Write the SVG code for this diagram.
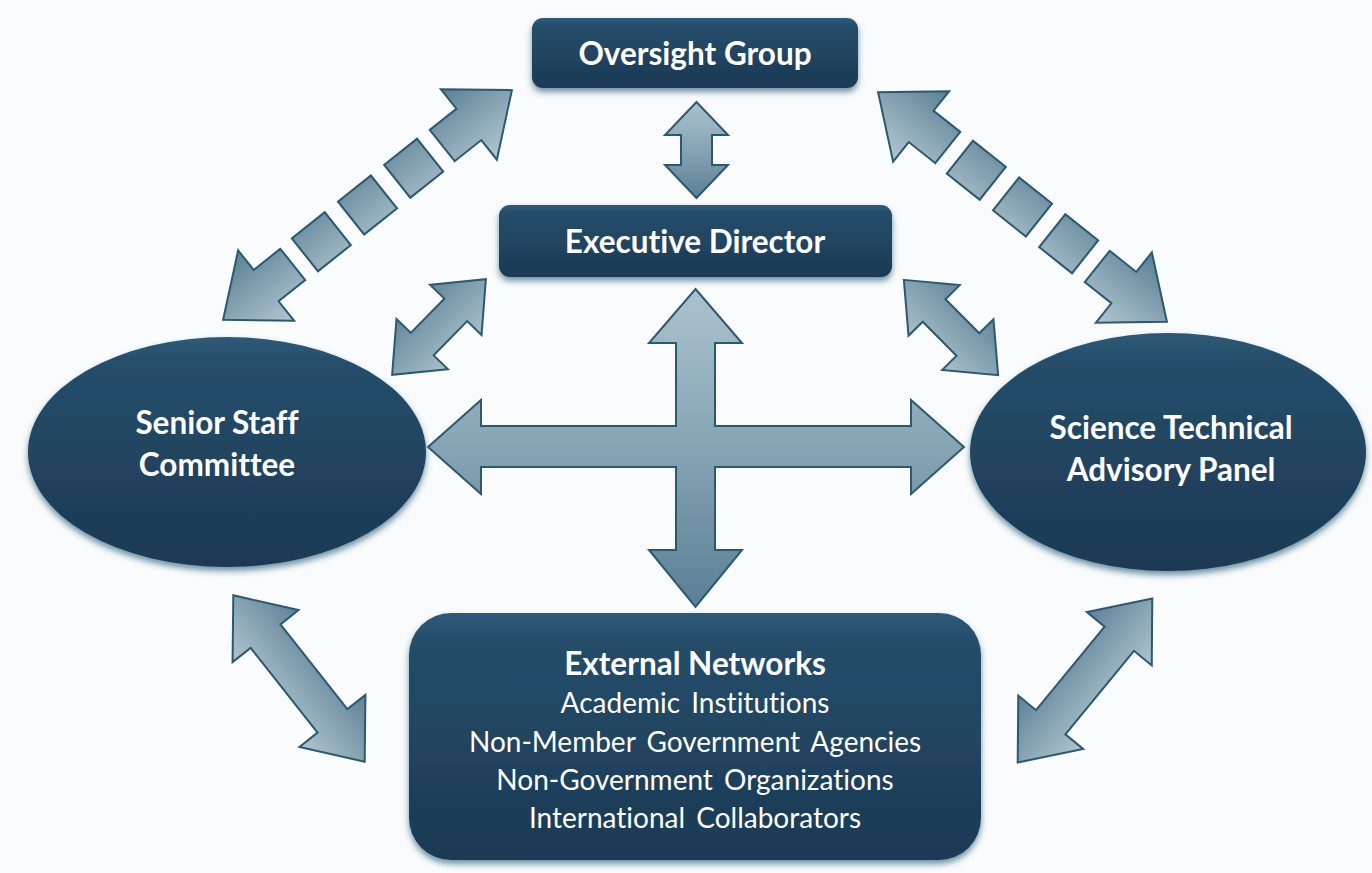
<svg xmlns="http://www.w3.org/2000/svg" width="1372" height="873" viewBox="0 0 1372 873">
<style>
.node{fill:url(#gNode);filter:url(#shadow);}
.t{fill:#ffffff;font-family:Lato,"Open Sans","Liberation Sans",sans-serif;text-anchor:middle;font-variant-ligatures:none;font-feature-settings:"liga" 0;}
.tb{font-weight:bold;font-size:31.5px;}
.tr{font-size:28px;word-spacing:4px;}
.arr{fill:url(#gDiag);stroke:#2c5870;stroke-width:2;stroke-linejoin:miter;}
.cross{fill:url(#gVert);stroke:#2c5870;stroke-width:2;}
</style>
<defs>
<linearGradient id="gNode" x1="0" y1="0" x2="0" y2="1">
<stop offset="0" stop-color="#2f5a78"/>
<stop offset="0.12" stop-color="#254d6a"/>
<stop offset="1" stop-color="#1c3954"/>
</linearGradient>
<linearGradient id="gVert" x1="0" y1="0" x2="0" y2="1">
<stop offset="0" stop-color="#abc2cd"/>
<stop offset="0.5" stop-color="#86a4b4"/>
<stop offset="1" stop-color="#5a7f94"/>
</linearGradient>
<linearGradient id="gDiag" gradientUnits="userSpaceOnUse" x1="0" y1="-45" x2="0" y2="45">
<stop offset="0" stop-color="#5b8095"/>
<stop offset="1" stop-color="#b3c7d1"/>
</linearGradient>
<filter id="shadow" x="-10%" y="-10%" width="120%" height="130%">
<feGaussianBlur in="SourceAlpha" stdDeviation="3"/>
<feOffset dy="4" result="b"/>
<feFlood flood-color="#3f6d88" flood-opacity="0.75"/>
<feComposite in2="b" operator="in" result="s"/>
<feMerge><feMergeNode in="s"/><feMergeNode in="SourceGraphic"/></feMerge>
</filter>
</defs>
<rect x="0" y="0" width="1372" height="873" fill="#f9fbfc"/>

<g id="connectors">
<!-- dashed Oversight <-> Senior Staff -->
<g transform="translate(367.5,205) rotate(-38.5)">
<path class="arr" d="M 95.5,-20 L 129.5,-20 L 129.5,-45 L 184.5,0 L 129.5,45 L 129.5,20 L 95.5,20 Z"/>
<path class="arr" d="M -95.5,-20 L -129.5,-20 L -129.5,-45 L -184.5,0 L -129.5,45 L -129.5,20 L -95.5,20 Z"/>
<rect class="arr" x="-80" y="-21" width="42" height="42"/>
<rect class="arr" x="-21" y="-21" width="42" height="42"/>
<rect class="arr" x="38" y="-21" width="42" height="42"/>
</g>
<!-- dashed Oversight <-> Science -->
<g transform="translate(1022.5,207) rotate(38.5)">
<path class="arr" d="M 95.5,-20 L 129.5,-20 L 129.5,-45 L 184.5,0 L 129.5,45 L 129.5,20 L 95.5,20 Z"/>
<path class="arr" d="M -95.5,-20 L -129.5,-20 L -129.5,-45 L -184.5,0 L -129.5,45 L -129.5,20 L -95.5,20 Z"/>
<rect class="arr" x="-80" y="-21" width="42" height="42"/>
<rect class="arr" x="-21" y="-21" width="42" height="42"/>
<rect class="arr" x="38" y="-21" width="42" height="42"/>
</g>
<!-- Oversight <-> Executive -->
<path class="cross" d="M 696.5,102 L 728,135 L 712,135 L 712,165 L 728,165 L 696.5,198 L 665,165 L 681,165 L 681,135 L 665,135 Z"/>
<!-- Executive <-> Senior Staff -->
<path class="arr" transform="translate(439,327) rotate(-45.6)" d="M -67,0 L -24,-36 L -24,-16 L 24,-16 L 24,-36 L 67,0 L 24,36 L 24,16 L -24,16 L -24,36 Z"/>
<!-- Executive <-> Science -->
<path class="arr" transform="translate(951,327.5) rotate(45.3)" d="M -67,0 L -24,-36 L -24,-16 L 24,-16 L 24,-36 L 67,0 L 24,36 L 24,16 L -24,16 L -24,36 Z"/>
<!-- central cross -->
<path class="cross" d="M 695.5,289 L 742,343 L 715,343 L 715,426 L 911,426 L 911,400 L 964,447 L 911,494 L 911,467 L 715,467 L 715,550 L 742,550 L 695.5,607 L 649,550 L 676,550 L 676,467 L 481,467 L 481,494 L 428,447 L 481,400 L 481,426 L 676,426 L 676,343 L 649,343 Z"/>
<!-- Senior Staff <-> External -->
<path class="arr" transform="translate(299,678.5) rotate(51.7)" d="M -106,0 L -54,-42 L -54,-19 L 54,-19 L 54,-42 L 106,0 L 54,42 L 54,19 L -54,19 L -54,42 Z"/>
<!-- Science <-> External -->
<path class="arr" transform="translate(1085,680.5) rotate(-50.6)" d="M -106,0 L -54,-42 L -54,-19 L 54,-19 L 54,-42 L 106,0 L 54,42 L 54,19 L -54,19 L -54,42 Z"/>
</g>

<g id="oversight">
<rect class="node" x="532" y="18" width="326" height="70" rx="11"/>
<text class="t tb" x="695" y="65">Oversight Group</text>
</g>
<g id="executive">
<rect class="node" x="499" y="205" width="393" height="72" rx="11"/>
<text class="t tb" x="695" y="253">Executive Director</text>
</g>
<g id="senior">
<ellipse class="node" cx="227" cy="452" rx="199" ry="115"/>
<text class="t tb" x="217" y="434">Senior Staff</text>
<text class="t tb" x="217" y="476">Committee</text>
</g>
<g id="science">
<ellipse class="node" cx="1168" cy="452" rx="198" ry="119"/>
<text class="t tb" x="1171" y="439">Science Technical</text>
<text class="t tb" x="1171" y="481">Advisory Panel</text>
</g>
<g id="external">
<rect class="node" x="409" y="613" width="572" height="247" rx="42"/>
<text class="t tb" x="695" y="675">External Networks</text>
<text class="t tr" x="695" y="713">Academic Institutions</text>
<text class="t tr" x="695" y="752">Non-Member Government Agencies</text>
<text class="t tr" x="695" y="790">Non-Government Organizations</text>
<text class="t tr" x="695" y="828">International Collaborators</text>
</g>
</svg>
